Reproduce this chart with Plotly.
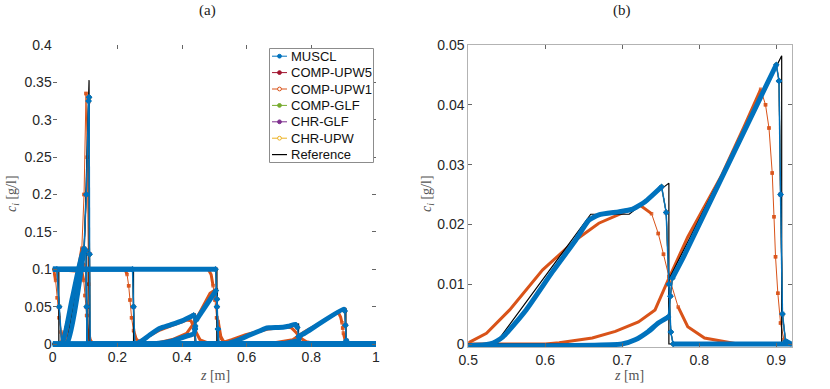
import plotly.graph_objects as go

# ---------------- data (z [m], c [g/l]) ----------------
# Panel (a): displacer plateau fronts at four times
MUSCL_P1_Z = [0, 0.013, 0.02, 0.028, 1]
MUSCL_P1_C = [0.1, 0.1, 0.05, 0, 0]
MUSCL_P2_Z = [0, 0.103, 0.105, 0.107, 1]
MUSCL_P2_C = [0.1, 0.1, 0.05, 0, 0]
MUSCL_P3_Z = [0, 0.247, 0.25, 0.254, 1]
MUSCL_P3_C = [0.1, 0.1, 0.05, 0, 0]
MUSCL_P4_Z = [0, 0.504, 0.508, 0.512, 1]
MUSCL_P4_C = [0.1, 0.1, 0.05, 0, 0]

REF_P1_Z = [0, 0.019, 0.019, 1]
REF_P2_Z = [0, 0.105, 0.105, 1]
REF_P3_Z = [0, 0.25, 0.25, 1]
REF_P4_Z = [0, 0.508, 0.508, 1]
REF_P_C = [0.1, 0.1, 0, 0]

UPW1_P1_Z = [0, 0.004, 0.009, 0.014, 0.02, 0.026, 0.033, 0.042, 1]
UPW1_P1_C = [0.1, 0.097, 0.085, 0.062, 0.035, 0.016, 0.005, 0, 0]
UPW1_P2_Z = [0, 0.09, 0.096, 0.1, 0.105, 0.11, 0.116, 0.124, 1]
UPW1_P2_C = [0.1, 0.097, 0.085, 0.065, 0.038, 0.018, 0.006, 0, 0]
UPW1_P3_Z = [0, 0.2236, 0.23, 0.235, 0.239, 0.244, 0.25, 0.258, 0.27, 0.28, 1]
UPW1_P3_C = [0.1, 0.1, 0.093, 0.078, 0.059, 0.035, 0.018, 0.007, 0.002, 0, 0]
UPW1_P4_Z = [0, 0.481, 0.49, 0.496, 0.502, 0.507, 0.513, 0.521, 0.532, 0.545, 1]
UPW1_P4_C = [0.1, 0.1, 0.093, 0.078, 0.059, 0.035, 0.018, 0.007, 0.002, 0, 0]

# Panel (a): early time (spike)
MUSCL_A1_Z = [0, 0.028, 0.06, 0.093, 0.103, 0.106, 1]
MUSCL_A1_C = [0, 0, 0.06, 0.122, 0.125, 0, 0]
MUSCL_B1_Z = [0, 0.043, 0.097, 0.104, 0.111, 0.1125, 0.114, 0.116, 1]
MUSCL_B1_C = [0, 0, 0.128, 0.2, 0.325, 0.33, 0.12, 0, 0]
REF_A1_Z = [0, 0.028, 0.094, 0.105, 0.105, 1]
REF_A1_C = [0, 0, 0.124, 0.128, 0, 0]
REF_B1_Z = [0, 0.043, 0.098, 0.1125, 0.1128, 1]
REF_B1_C = [0, 0, 0.13, 0.353, 0, 0]
UPW1_A1_Z = [0, 0.018, 0.028, 0.04, 0.09, 0.1, 0.106, 0.112, 1]
UPW1_A1_C = [0, 0, 0.004, 0.018, 0.11, 0.105, 0.05, 0, 0]
UPW1_B1_Z = [0, 0.025, 0.035, 0.045, 0.09, 0.097, 0.103, 0.107, 0.111, 0.116, 1]
UPW1_B1_C = [0, 0, 0.004, 0.015, 0.128, 0.2, 0.335, 0.25, 0.08, 0, 0]

# Panel (a): intermediate time
MUSCL_A3_Z = [0, 0.258, 0.275, 0.3, 0.332, 0.363, 0.4, 0.436, 0.44, 0.443, 1]
MUSCL_A3_C = [0, 0, 0.004, 0.012, 0.021, 0.0254, 0.031, 0.0385, 0.02, 0, 0]
REF_A3_Z = [0, 0.262, 0.33, 0.37, 0.44, 0.44, 1]
REF_A3_C = [0, 0, 0.0215, 0.0255, 0.04, 0, 0]
UPW1_A3_Z = [0, 0.245, 0.265, 0.3, 0.332, 0.37, 0.4145, 0.428, 0.44, 0.456, 0.476, 0.5, 1]
UPW1_A3_C = [0, 0, 0.003, 0.011, 0.0187, 0.025, 0.032, 0.031, 0.0187, 0.0054, 0.002, 0, 0]
MUSCL_B3_Z = [0, 0.305, 0.36, 0.4145, 0.437, 0.441, 0.444, 0.505, 0.508, 0.511, 0.514, 1]
MUSCL_B3_C = [0, 0, 0.003, 0.0107, 0.014, 0.024, 0.032, 0.0715, 0.06, 0.02, 0, 0]
REF_B3_Z = [0, 0.31, 0.44, 0.44, 0.509, 0.509, 1]
REF_B3_C = [0, 0, 0.013, 0.031, 0.074, 0, 0]
UPW1_B3_Z = [0, 0.29, 0.33, 0.37, 0.4145, 0.44, 0.4866, 0.498, 0.505, 0.512, 0.52, 0.53, 1]
UPW1_B3_C = [0, 0, 0.002, 0.006, 0.0143, 0.03, 0.0678, 0.071, 0.06, 0.03, 0.01, 0.002, 0]

# Final time (shown in both panels)
MUSCL_A4_Z = [0, 0.528, 0.545, 0.5751, 0.6094, 0.6395, 0.6566, 0.6695, 0.695, 0.7124,
              0.7296, 0.751, 0.757, 0.7605, 0.763, 0.766, 1]
MUSCL_A4_C = [0, 0, 0.0012, 0.0057, 0.0121, 0.0174, 0.0207, 0.0216, 0.0221, 0.0225,
              0.0238, 0.0263, 0.022, 0.01, 0.002, 0, 0]
MUSCL_B4_Z = [0, 0.6995, 0.7167, 0.7339, 0.7467, 0.7596, 0.7625, 0.765, 0.78, 0.9,
              0.9035, 0.9055, 0.908, 0.912, 0.92, 1]
MUSCL_B4_C = [0, 0, 0.0007, 0.0021, 0.0035, 0.0045, 0.008, 0.011, 0.0147, 0.0467,
              0.044, 0.025, 0.005, 0.0005, 0, 0]
REF_A4_Z = [0, 0.535, 0.659, 0.709, 0.7605, 0.7605, 1]
REF_A4_C = [0, 0, 0.0217, 0.0217, 0.0269, 0, 0]
REF_B4_Z = [0, 0.708, 0.7605, 0.7605, 0.907, 0.907, 1]
REF_B4_C = [0, 0, 0.0045, 0.0108, 0.0482, 0, 0]
UPW1_A4_Z = [0, 0.497, 0.5236, 0.5537, 0.5966, 0.6395, 0.6695, 0.7038, 0.7231, 0.738,
             0.7467, 0.7535, 0.7605, 0.7725, 0.785, 0.8068, 0.8326, 0.85, 1]
UPW1_A4_C = [0, 0, 0.0018, 0.0057, 0.0124, 0.0174, 0.0202, 0.0221, 0.0232, 0.0218,
             0.0185, 0.015, 0.0113, 0.0062, 0.0029, 0.001, 0.0004, 0, 0]
UPW1_B4_Z = [0, 0.6, 0.618, 0.661, 0.691, 0.721, 0.7425, 0.7605, 0.785, 0.8282, 0.858,
             0.8797, 0.886, 0.8905, 0.8947, 0.897, 0.899, 0.902, 0.9055, 0.91, 0.915, 1]
UPW1_B4_C = [0, 0, 0.0002, 0.001, 0.0021, 0.0037, 0.0057, 0.011, 0.0179, 0.028, 0.0363,
             0.0426, 0.04, 0.0361, 0.0286, 0.0213, 0.0146, 0.0085, 0.0035, 0.0007, 0, 0]

METHODS = ["MUSCL", "COMP-UPW5", "COMP-UPW1", "COMP-GLF", "CHR-GLF", "CHR-UPW", "Reference"]
COLORS = {"MUSCL": "#0072BD", "COMP-UPW5": "#A2142F", "COMP-UPW1": "#D95319",
          "COMP-GLF": "#77AC30", "CHR-GLF": "#7E2F8E", "CHR-UPW": "#EDB120",
          "Reference": "#000000"}
SYMBOLS = {"MUSCL": "diamond", "COMP-UPW5": "circle", "COMP-UPW1": "circle",
           "COMP-GLF": "triangle-up", "CHR-GLF": "asterisk-open", "CHR-UPW": "circle-open"}

# curve sets per panel
MUSCL_A = [(MUSCL_P1_Z, MUSCL_P1_C), (MUSCL_P2_Z, MUSCL_P2_C), (MUSCL_P3_Z, MUSCL_P3_C),
           (MUSCL_P4_Z, MUSCL_P4_C), (MUSCL_A1_Z, MUSCL_A1_C), (MUSCL_B1_Z, MUSCL_B1_C),
           (MUSCL_A3_Z, MUSCL_A3_C), (MUSCL_B3_Z, MUSCL_B3_C), (MUSCL_A4_Z, MUSCL_A4_C),
           (MUSCL_B4_Z, MUSCL_B4_C)]
REF_A = [(REF_P1_Z, REF_P_C), (REF_P2_Z, REF_P_C), (REF_P3_Z, REF_P_C), (REF_P4_Z, REF_P_C),
         (REF_A1_Z, REF_A1_C), (REF_B1_Z, REF_B1_C), (REF_A3_Z, REF_A3_C),
         (REF_B3_Z, REF_B3_C), (REF_A4_Z, REF_A4_C), (REF_B4_Z, REF_B4_C)]
UPW1_A = [(UPW1_P1_Z, UPW1_P1_C), (UPW1_P2_Z, UPW1_P2_C), (UPW1_P3_Z, UPW1_P3_C),
          (UPW1_P4_Z, UPW1_P4_C), (UPW1_A1_Z, UPW1_A1_C), (UPW1_B1_Z, UPW1_B1_C),
          (UPW1_A3_Z, UPW1_A3_C), (UPW1_B3_Z, UPW1_B3_C), (UPW1_A4_Z, UPW1_A4_C),
          (UPW1_B4_Z, UPW1_B4_C)]
MUSCL_B = [(MUSCL_A4_Z, MUSCL_A4_C), (MUSCL_B4_Z, MUSCL_B4_C)]
REF_B = [(REF_A4_Z, REF_A4_C), (REF_B4_Z, REF_B4_C)]
UPW1_B = [(UPW1_A4_Z, UPW1_A4_C), (UPW1_B4_Z, UPW1_B4_C)]

# ---------------- layout helpers ----------------
W, H = 830, 389


def px(x):  # window pixel -> paper x
    return x / W


def py(y):  # window pixel -> paper y
    return 1 - y / H


# pixel scale of each panel (px per data unit) and steepness threshold
SCALE = {"x": (323.3, 747.5, 6.0), "x2": (777.0, 5980.0, 2.5)}


def join(curves):
    xs, ys = [], []
    for z, c in curves:
        xs += list(z) + [None]
        ys += list(c) + [None]
    return xs, ys


def split(curves, sx, sy, thr):
    """Split polylines into gentle runs (dense markers -> thick band) and steep segments."""
    gx, gy, tx, ty = [], [], [], []
    for z, c in curves:
        run_open = False
        for i in range(len(z) - 1):
            dx = abs(z[i + 1] - z[i]) * sx
            dy = abs(c[i + 1] - c[i]) * sy
            if dy > thr * max(dx, 1e-9):
                if run_open:
                    gx.append(None); gy.append(None)
                    run_open = False
                tx += [z[i], z[i + 1], None]
                ty += [c[i], c[i + 1], None]
            else:
                if not run_open:
                    gx.append(z[i]); gy.append(c[i])
                    run_open = True
                gx.append(z[i + 1]); gy.append(c[i + 1])
        if run_open:
            gx.append(None); gy.append(None)
    return gx, gy, tx, ty


fig = go.Figure()

panels = [("x", "y", MUSCL_A, REF_A, UPW1_A), ("x2", "y2", MUSCL_B, REF_B, UPW1_B)]
for xa, ya, mus, ref, upw1 in panels:
    sx, sy, thr = SCALE[xa]
    # high-order schemes, nearly coincident with MUSCL (mostly hidden beneath it)
    for m in ["COMP-UPW5", "COMP-GLF", "CHR-GLF", "CHR-UPW"]:
        gx, gy, tx, ty = split(mus, sx, sy, thr)
        fig.add_trace(go.Scatter(x=gx, y=gy, mode="lines", xaxis=xa, yaxis=ya, name=m,
                                 showlegend=False, line=dict(color=COLORS[m], width=2)))
        fig.add_trace(go.Scatter(x=tx, y=ty, mode="lines+markers", xaxis=xa, yaxis=ya, name=m,
                                 showlegend=False, line=dict(color=COLORS[m], width=1),
                                 marker=dict(symbol=SYMBOLS[m], size=4, color=COLORS[m])))
    gx, gy, tx, ty = split(upw1, sx, sy, thr)
    fig.add_trace(go.Scatter(x=gx, y=gy, mode="lines", xaxis=xa, yaxis=ya, name="COMP-UPW1",
                             showlegend=False, line=dict(color=COLORS["COMP-UPW1"], width=3)))
    fig.add_trace(go.Scatter(x=tx, y=ty, mode="lines+markers", xaxis=xa, yaxis=ya,
                             name="COMP-UPW1", showlegend=False,
                             line=dict(color=COLORS["COMP-UPW1"], width=1),
                             marker=dict(symbol="square", size=3.5, color=COLORS["COMP-UPW1"],
                                         opacity=0.8)))
    x, y = join(ref)
    fig.add_trace(go.Scatter(x=x, y=y, mode="lines", xaxis=xa, yaxis=ya, name="Reference",
                             showlegend=False, line=dict(color="#000000", width=1.2)))
    gx, gy, tx, ty = split(mus, sx, sy, thr)
    fig.add_trace(go.Scatter(x=gx, y=gy, mode="lines", xaxis=xa, yaxis=ya, name="MUSCL",
                             showlegend=False,
                             line=dict(color=COLORS["MUSCL"], width=5,
                                       shape="spline", smoothing=0.5)))
    fig.add_trace(go.Scatter(x=tx, y=ty, mode="lines+markers", xaxis=xa, yaxis=ya, name="MUSCL",
                             showlegend=False, line=dict(color=COLORS["MUSCL"], width=1.5),
                             marker=dict(symbol="diamond", size=5, color=COLORS["MUSCL"])))

TICKFONT = dict(family="Liberation Sans, Arial, sans-serif", size=14, color="#262626")
ydom = [py(347), py(45)]

axis_common = dict(ticks="inside", ticklen=4, tickwidth=1, tickcolor="#666666",
                   showgrid=False, zeroline=False, tickfont=TICKFONT, automargin=False)

fig.update_layout(
    width=W, height=H,
    autosize=False,
    margin=dict(l=0, r=0, t=0, b=0, pad=0, autoexpand=False),
    paper_bgcolor="white", plot_bgcolor="white",
    showlegend=False,
    xaxis=dict(domain=[px(52.7), px(376)], range=[0, 1],
               tickvals=[0, 0.2, 0.4, 0.6, 0.8, 1], ticktext=["0", "0.2", "0.4", "0.6", "0.8", "1"],
               showline=False, mirror="ticks", anchor="y", **axis_common),
    yaxis=dict(domain=ydom, range=[-0.004, 0.4],
               tickvals=[0, 0.05, 0.1, 0.15, 0.2, 0.25, 0.3, 0.35, 0.4],
               ticktext=["0", "0.05", "0.1", "0.15", "0.2", "0.25", "0.3", "0.35", "0.4"],
               showline=False, mirror="ticks", anchor="x", **axis_common),
    xaxis2=dict(domain=[px(468.3), px(791.7)], range=[0.5, 0.92],
                tickvals=[0.5, 0.6, 0.7, 0.8, 0.9], ticktext=["0.5", "0.6", "0.7", "0.8", "0.9"],
                showline=True, linecolor="#b3b3b3", linewidth=1, mirror="ticks",
                anchor="y2", **axis_common),
    yaxis2=dict(domain=ydom, range=[-0.0005, 0.05],
                tickvals=[0, 0.01, 0.02, 0.03, 0.04, 0.05],
                ticktext=["0", "0.01", "0.02", "0.03", "0.04", "0.05"],
                showline=True, linecolor="#b3b3b3", linewidth=1, mirror="ticks",
                anchor="x2", **axis_common),
)

# ---------------- legend (box, samples, labels) ----------------
LEG_L, LEG_R, LEG_T, LEG_B = 269.5, 373.5, 48.5, 162.5
LEG_ROW0, LEG_DY = 56.2, 16.4
shapes = [dict(type="rect", xref="paper", yref="paper", x0=px(LEG_L), x1=px(LEG_R),
               y0=py(LEG_B), y1=py(LEG_T), line=dict(color="#8c8c8c", width=1),
               fillcolor="white", layer="above")]
for i, m in enumerate(METHODS):
    yc = LEG_ROW0 + i * LEG_DY
    shapes.append(dict(type="line", xref="paper", yref="paper", x0=px(272), x1=px(287),
                       y0=py(yc), y1=py(yc), layer="above",
                       line=dict(color=COLORS[m], width=1.2 if m == "Reference" else 1)))
    if m != "Reference":
        hollow = m in ("COMP-UPW1", "CHR-UPW")
        shapes.append(dict(type="circle", xref="paper", yref="paper", layer="above",
                           x0=px(277.6), x1=px(281.4), y0=py(yc + 1.9), y1=py(yc - 1.9),
                           line=dict(color=COLORS[m], width=1),
                           fillcolor="white" if hollow else COLORS[m]))
    fig.add_annotation(xref="paper", yref="paper", x=px(288.5), y=py(yc), text=m,
                       showarrow=False, xanchor="left", yanchor="middle",
                       font=dict(family="Liberation Sans, Arial, sans-serif", size=13,
                                 color="#111111"))
fig.update_layout(shapes=shapes)

SERIF = "Liberation Serif, Times New Roman, serif"
ann = [
    dict(text="(a)", x=px(207), y=py(10), font=dict(family=SERIF, size=15, color="#222")),
    dict(text="(b)", x=px(622), y=py(10), font=dict(family=SERIF, size=15, color="#222")),
    dict(text="<i>z</i> [m]", x=px(215), y=py(375), font=dict(family=SERIF, size=14, color="#555")),
    dict(text="<i>z</i> [m]", x=px(629), y=py(375), font=dict(family=SERIF, size=14, color="#555")),
    dict(text="<i>c<sub>i</sub></i> [g/l]", x=px(12), y=py(194), textangle=-90,
         font=dict(family=SERIF, size=14, color="#555")),
    dict(text="<i>c<sub>i</sub></i> [g/l]", x=px(427), y=py(194), textangle=-90,
         font=dict(family=SERIF, size=14, color="#555")),
]
for a in ann:
    fig.add_annotation(xref="paper", yref="paper", showarrow=False,
                       xanchor="center", yanchor="middle", **a)

# the page's default 8px body margin would push the 830x389 figure off the window
fig.write_html("out.html", config={"responsive": False, "displayModeBar": False},
               post_script="document.body.style.margin='0';document.body.style.overflow='hidden';")
